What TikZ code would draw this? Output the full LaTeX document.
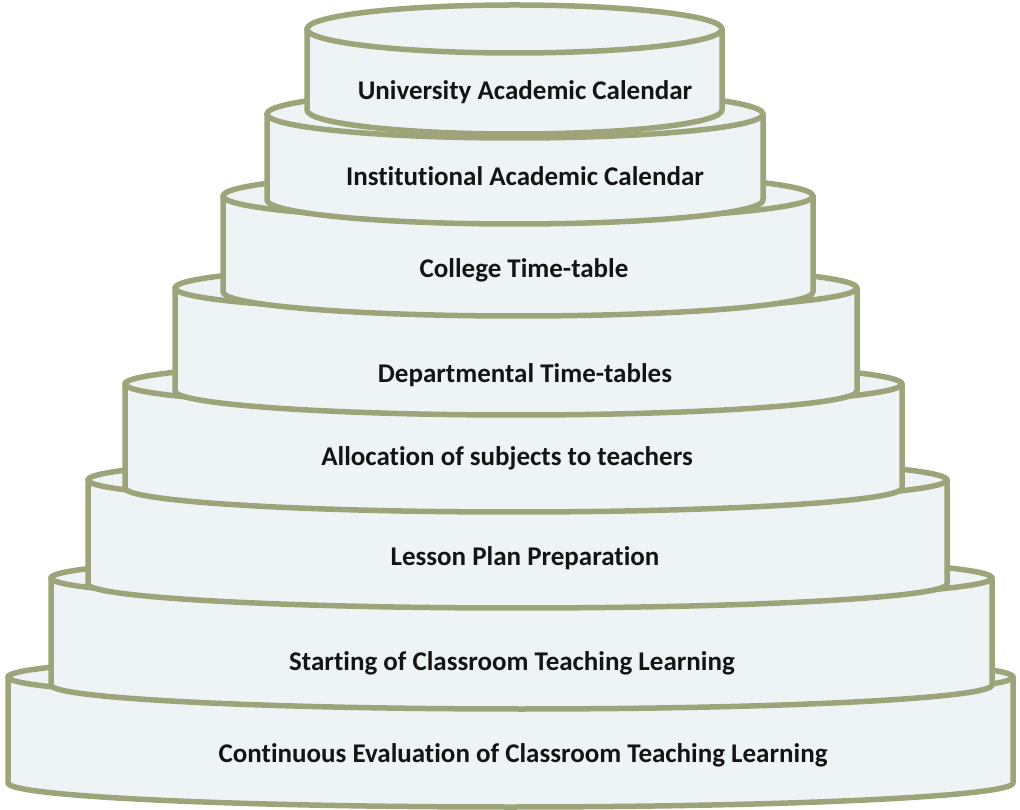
\documentclass[tikz,border=0pt]{standalone}
\usepackage{fontspec}
\setmainfont[Ligatures=NoCommon]{Carlito}
\definecolor{rim}{RGB}{158,164,122}
\definecolor{bodyfill}{RGB}{238,243,246}
\tikzset{
  tierfill/.style={fill=bodyfill, draw=rim, line width=5.5pt, line join=round},
  tierrim/.style={draw=rim, line width=5.5pt, line cap=round},
  tierlabel/.style={font=\bfseries\fontsize{27}{30}\selectfont, text=black!92, inner sep=0pt}
}
\newcommand\tiershape[4]{%
  \pgfmathsetmacro\rxx{(#2-#1)/2}%
  \path[tierfill] (#1,{809-#3}) arc[start angle=180,end angle=0,x radius=\rxx pt,y radius=24pt]
     -- (#2,{809-#4}) arc[start angle=0,end angle=-180,x radius=\rxx pt,y radius=24pt] -- cycle;
  \path[tierrim] (#1,{809-#3}) arc[start angle=180,end angle=360,x radius=\rxx pt,y radius=24pt];
}
\begin{document}
\begin{tikzpicture}[x=1pt,y=1pt]
\useasboundingbox (0,0) rectangle (1020,809);
\tiershape{8}{1013}{677}{783}
\tiershape{51}{992}{578}{685}
\tiershape{88}{947}{480}{584}
\tiershape{125}{902}{384}{488}
\tiershape{175}{857}{288}{391}
\tiershape{223}{813}{196}{292}
\tiershape{267}{763}{114}{200}
\tiershape{307}{722}{29}{110}
\node[tierlabel] (t1) at (525,{809-92}) {University Academic Calendar};
\node[tierlabel] (t2) at (525,{809-176}) {Institutional Academic Calendar};
\node[tierlabel] (t3) at (524,{809-270}) {College Time-table};
\node[tierlabel] (t4) at (525,{809-375}) {Departmental Time-tables};
\node[tierlabel] (t5) at (507,{809-458}) {Allocation of subjects to teachers};
\node[tierlabel] (t6) at (525,{809-558}) {Lesson Plan Preparation};
\node[tierlabel] (t7) at (512,{809-663}) {Starting of Classroom Teaching Learning};
\node[tierlabel] (t8) at (523,{809-755}) {Continuous Evaluation of Classroom Teaching Learning};
\end{tikzpicture}
\end{document}
